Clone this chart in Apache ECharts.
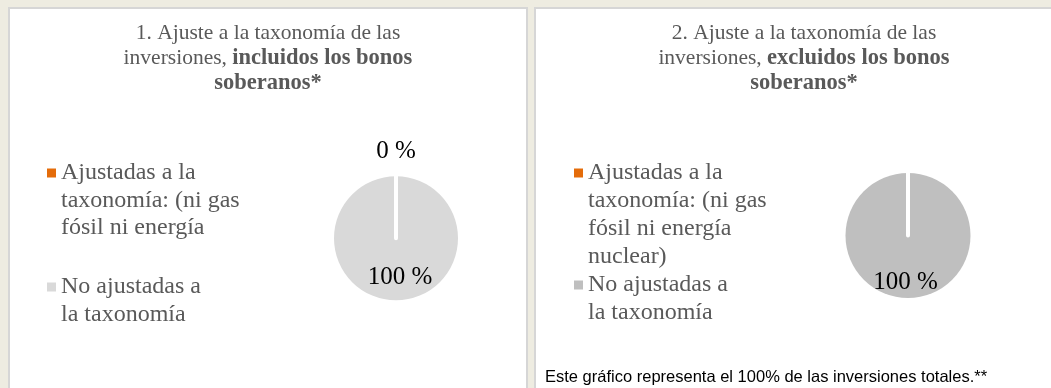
<!DOCTYPE html>
<html>
<head>
<meta charset="utf-8">
<script src="https://cdn.jsdelivr.net/npm/echarts@6/dist/echarts.min.js"></script>
<style>
  html, body { margin: 0; padding: 0; width: 1051px; height: 388px; overflow: hidden; background: #EEECE1; }
  .panel { position: absolute; top: 7px; background: #fff; border: 2px solid #D6D6D6; border-bottom: none; }
  #p1 { left: 8px; width: 516px; height: 379px; }
  #p2 { left: 534px; width: 536px; height: 379px; }
  .chart { width: 100%; height: 100%; }
</style>
</head>
<body>
<div class="panel" id="p1"><div class="chart" id="c1"></div></div>
<div class="panel" id="p2"><div class="chart" id="c2"></div></div>
<script>
// Panel 1: investments including sovereign bonds
const titleIncl = '1. Ajuste a la taxonomía de las\ninversiones, {b|incluidos los bonos}\n{b|soberanos*}';
const labelsIncl = ['Ajustadas a la\ntaxonomía: (ni gas\nfósil ni energía', 'No ajustadas a\nla taxonomía'];
const valuesIncl = [0, 100];

// Panel 2: investments excluding sovereign bonds
const titleExcl = '2. Ajuste a la taxonomía de las\ninversiones, {b|excluidos los bonos}\n{b|soberanos*}';
const labelsExcl = ['Ajustadas a la\ntaxonomía: (ni gas\nfósil ni energía\nnuclear)', 'No ajustadas a\nla taxonomía'];
const valuesExcl = [0, 100];

const footnote = 'Este gráfico representa el 100% de las inversiones totales.**';

const SERIF = '"Liberation Serif", "DejaVu Serif", serif';
const GREY_TEXT = '#595959';
const ORANGE = '#E46C0A';
const ICON = 9;

function buildOption(cfg) {
  const L = cfg.lineHeight;
  const lines = s => s.split('\n').length;
  const n0 = lines(cfg.labels[0]);
  const n1 = lines(cfg.labels[1]);

  // ECharts centres legend text on its marker; blank leading lines put the
  // first written line of each entry level with the square.
  const legendText = name => '\n'.repeat(lines(name) - 1) + name;
  const itemGap = cfg.blankAfterFirst - (n1 - 1) * L;
  const legendTop = cfg.iconTop + ICON / 2 - (2 * n0 - 1) * L / 2;

  const slices = cfg.labels.map((name, i) => {
    const isZero = cfg.values[i] === 0;
    return {
      name,
      value: cfg.values[i],
      itemStyle: isZero
        ? { color: cfg.colors[i], borderColor: '#fff', borderWidth: 4, borderJoin: 'round', borderCap: 'round' }
        : { color: cfg.colors[i], borderWidth: 0 },
      label: isZero
        ? { show: cfg.showZeroLabel, position: 'outside' }
        : { show: true, position: 'inside' }
    };
  });
  // the empty slice is drawn last so its white edge stays above the full one
  const seriesData = slices.slice().reverse();

  const titles = [{
    text: cfg.title,
    left: 'center',
    top: 12,
    padding: 0,
    textStyle: {
      fontFamily: SERIF, fontSize: 21.5, fontWeight: 'normal', color: GREY_TEXT, lineHeight: 25,
      rich: { b: { fontFamily: SERIF, fontSize: 22.5, fontWeight: 'bold', color: GREY_TEXT, lineHeight: 25 } }
    }
  }];
  if (cfg.footnote) {
    titles.push({
      text: cfg.footnote,
      left: 9,
      top: 360,
      padding: 0,
      textStyle: { fontFamily: '"Liberation Sans", Arial, sans-serif', fontSize: 16.5, fontWeight: 'normal', color: '#000' }
    });
  }

  return {
    animation: false,
    backgroundColor: '#fff',
    title: titles,
    legend: {
      orient: 'vertical',
      left: cfg.legendLeft,
      top: legendTop,
      padding: 0,
      icon: 'rect',
      itemWidth: ICON,
      itemHeight: ICON,
      itemGap,
      selectedMode: false,
      itemStyle: { borderWidth: 0 },
      formatter: legendText,
      textStyle: { fontFamily: SERIF, fontSize: 24, color: GREY_TEXT, lineHeight: L },
      data: cfg.labels
    },
    series: [{
      type: 'pie',
      center: cfg.center,
      radius: cfg.radius,
      startAngle: 90,
      clockwise: true,
      silent: true,
      avoidLabelOverlap: false,
      label: { fontFamily: SERIF, fontSize: 25, color: '#000', formatter: '{c} %' },
      labelLine: { show: false, length: 25, length2: 0 },
      labelLayout: p => {
        if (seriesData[p.dataIndex].value === 0) {
          // outside label of the empty slice, centred over its edge
          return { x: p.rect.x + p.rect.width / 2, align: 'center' };
        }
        return { dx: cfg.innerShift[0], dy: cfg.innerShift[1] };
      },
      data: seriesData
    }]
  };
}

const chart1 = echarts.init(document.getElementById('c1'), null, { renderer: 'canvas' });
chart1.setOption(buildOption({
  title: titleIncl,
  labels: labelsIncl,
  values: valuesIncl,
  colors: [ORANGE, '#D9D9D9'],
  lineHeight: 27.5,
  blankAfterFirst: 31.5,
  iconTop: 159.5,
  legendLeft: 37,
  center: [386, 229.3],
  radius: 62,
  innerShift: [4, 5],
  showZeroLabel: true
}));

const chart2 = echarts.init(document.getElementById('c2'), null, { renderer: 'canvas' });
chart2.setOption(buildOption({
  title: titleExcl,
  labels: labelsExcl,
  values: valuesExcl,
  colors: [ORANGE, '#BFBFBF'],
  lineHeight: 28,
  blankAfterFirst: 0,
  iconTop: 159.5,
  legendLeft: 38,
  center: [372, 226.5],
  radius: 62.5,
  innerShift: [-2.5, 13],
  showZeroLabel: false,
  footnote
}));
</script>
</body>
</html>
